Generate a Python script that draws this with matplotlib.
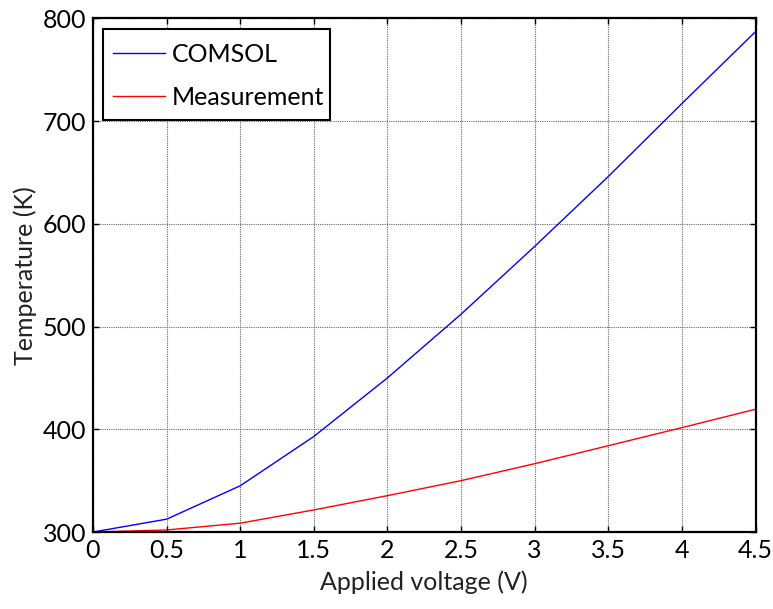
import matplotlib
matplotlib.use("Agg")
import matplotlib.pyplot as plt
from matplotlib.patches import Rectangle

# Applied voltage sweep and resulting temperatures
voltage = [0, 0.5, 1, 1.5, 2, 2.5, 3, 3.5, 4, 4.5]
temp_comsol = [300, 312.5, 345, 393, 450, 512, 578, 646, 717, 787]
temp_measured = [300, 302, 308.6, 321.5, 335.4, 350, 366.5, 384, 401.6, 419.5]

x_ticks = [0, 0.5, 1, 1.5, 2, 2.5, 3, 3.5, 4, 4.5]
x_tick_labels = ["0", "0.5", "1", "1.5", "2", "2.5", "3", "3.5", "4", "4.5"]
y_ticks = [300, 400, 500, 600, 700, 800]

plt.rcParams["font.family"] = ["Lato", "DejaVu Sans"]

fig = plt.figure(figsize=(7.73, 6.09), dpi=100)
ax = fig.add_axes([0.1203, 0.1264, 0.8571, 0.8436])

ax.plot(voltage, temp_comsol, color="#0000ff", lw=1.0, label="COMSOL")
ax.plot(voltage, temp_measured, color="#ff0000", lw=1.0, label="Measurement")

ax.set_xlim(0, 4.5)
ax.set_ylim(300, 800)
ax.set_xticks(x_ticks)
ax.set_xticklabels(x_tick_labels)
ax.set_yticks(y_ticks)

ax.grid(True, color="#666666", linestyle=(0, (1, 1)), linewidth=0.8)
ax.tick_params(direction="in", top=True, right=True, length=4, width=1,
               labelsize=18, colors="black", pad=5)
for s in ax.spines.values():
    s.set_linewidth(1.6)

ax.set_xlabel("Applied voltage (V)", fontsize=18, labelpad=6, color="#222222")
ax.set_ylabel("Temperature (K)", fontsize=18, labelpad=4, color="#222222")

# legend box drawn as a plain rectangle, entries placed inside it
ax.add_patch(Rectangle((0.0151, 0.802), 0.3426, 0.177, transform=ax.transAxes,
                       facecolor="white", edgecolor="black", linewidth=1.5,
                       zorder=4))
leg = ax.legend(loc="upper left", fontsize=18, frameon=False,
                borderpad=0.4, handlelength=2.1, labelspacing=0.8,
                handletextpad=0.25, borderaxespad=0,
                bbox_to_anchor=(0.0151, 0.971))
leg.set_zorder(5)

fig.savefig("out.png", dpi=100)
